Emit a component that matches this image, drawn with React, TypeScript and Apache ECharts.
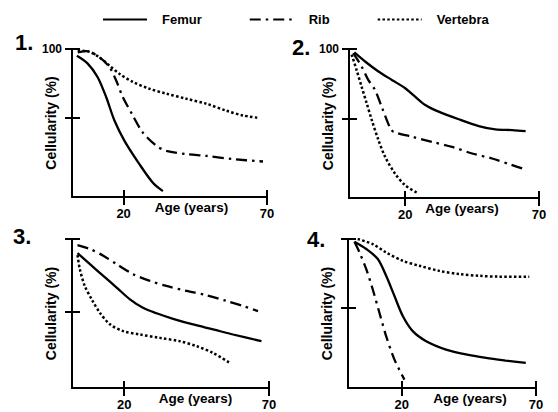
import React, { useEffect, useRef } from "react";
import * as echarts from "echarts";

const seriesNames = ["Femur", "Rib", "Vertebra"];
const ageTicks = [20, 70];
const cellTicks = [50, 100];
const cellLabelValues = [100];
const panelLabels = ["1.", "2.", "3.", "4."];
const xAxisName = "Age (years)";
const yAxisName = "Cellularity (%)";

// Panel 1
const p1Femur = [[3.7, 95], [7.4, 89.5], [10.9, 79.6], [13.9, 65], [16.8, 47.8], [20.3, 33], [25.5, 16], [30.2, 2.4], [33.7, -3.7]];
const p1Rib = [[4, 97.5], [7, 98.5], [11.5, 94], [15, 87], [17.4, 77], [19.7, 65], [23.2, 51.5], [26.7, 39], [31.4, 29.4], [34.9, 25.7], [41.9, 23.3], [48.9, 22], [58.2, 19.6], [68.6, 17.9]];
const p1Vert = [[4, 99], [8, 98], [11.5, 94], [15, 88], [18.5, 82], [23.2, 76], [29, 71], [34.9, 67.4], [41.9, 63.7], [48.9, 60], [55.8, 55], [61.6, 51.5], [66.9, 49.8]];
// Panel 2
const p2Femur = [[1, 97.5], [5, 91], [10, 83.8], [15, 77.7], [20, 71.7], [23.7, 65.6], [27.5, 59.6], [32.5, 54.8], [40, 49.3], [47.5, 44.4], [53.7, 42], [60, 41.5], [65, 40.8]];
const p2Rib = [[0.6, 97], [3.7, 87.4], [6.2, 77.7], [8.7, 70.5], [11.2, 58.4], [14.4, 42.8], [15.6, 40.3], [22.5, 36.7], [30, 33], [37.5, 29.4], [45, 24.6], [52.5, 21], [60, 16.2], [63.7, 13.8]];
const p2Vert = [[0, 96], [1.8, 85], [3.7, 72.9], [5.6, 60.9], [7.5, 48.8], [10, 34.3], [12.5, 22.2], [16.2, 10.1], [20, 1.7], [25, -4.3]];
// Panel 3
const p3Femur = [[3.9, 90.3], [8.2, 82.7], [12.8, 74.6], [17.4, 66.6], [22, 58.5], [26.5, 52.7], [31.2, 48.9], [36.9, 45.1], [43.8, 41.2], [50.7, 37.8], [57.6, 34.3], [67.4, 29.7]];
const p3Rib = [[3.9, 95.8], [8.2, 93.1], [12.8, 88.5], [17.4, 82.7], [23.1, 75.8], [28.9, 71.2], [34.6, 67.7], [41.5, 64.3], [48.4, 61.3], [55.3, 57.4], [61.1, 53.9], [66.2, 50.4]];
const p3Vert = [[3.9, 88.9], [4.7, 79.3], [6.4, 67.7], [8.8, 58.5], [11.6, 49.3], [15.1, 41.3], [19.7, 36.6], [25.4, 34.3], [32.3, 32], [39.2, 29.7], [45, 26.3], [50.7, 21.6], [56.5, 14.7]];
// Panel 4
const p4Femur = [[2.4, 98], [6.8, 92.7], [11.1, 85.4], [14.2, 73.2], [17.3, 58.5], [20.4, 43.9], [24.1, 32.9], [29.1, 25.6], [36.5, 19.5], [43.9, 15.9], [51.4, 13.4], [58.8, 11.5], [66.2, 9.8]];
const p4Rib = [[2.4, 98], [4.3, 90.2], [6.8, 78], [9.2, 63.4], [11.7, 46.3], [14.2, 29.3], [17.3, 12.2], [21, -2.4]];
const p4Vert = [[3.6, 100], [9.2, 96.3], [14.2, 90.2], [20.4, 84.1], [26.6, 80.5], [34, 76.8], [41.5, 74.4], [48.9, 73.2], [56.3, 72.6], [67.5, 72.6]];

const panelData = [
  [p1Femur, p1Rib, p1Vert],
  [p2Femur, p2Rib, p2Vert],
  [p3Femur, p3Rib, p3Vert],
  [p4Femur, p4Rib, p4Vert],
];
const panelShowHundred = [true, true, false, false];

// layout (pixels) and axis extents per panel
const layout = [
  { left: 72, top: 49, width: 195, height: 148, xMin: 2, yMin: -8, nameShift: 22, numX: 15, numY: 42.5 },
  { left: 349, top: 49, width: 190, height: 149, xMin: -1, yMin: -7.5, nameShift: 18, numX: 292, numY: 47 },
  { left: 72, top: 239, width: 197, height: 149, xMin: 2, yMin: -2.5, nameShift: 25, numX: 13, numY: 236.5 },
  { left: 348, top: 239, width: 188, height: 149, xMin: 0, yMin: -8.5, nameShift: 28, numX: 307, numY: 239 },
];

const FONT = "'Liberation Sans', Arial, Helvetica, sans-serif";
const lineTypes: any[] = ["solid", [11, 5, 2.5, 5], [2.5, 2.3]];
const lineWidths = [2.3, 2.3, 2.5];

export default function App() {
  const ref = useRef<HTMLDivElement>(null);
  useEffect(() => {
    if (!ref.current) return;
    const chart = echarts.init(ref.current, undefined, { renderer: "svg" });
    const grid: any[] = [];
    const xAxis: any[] = [];
    const yAxis: any[] = [];
    const series: any[] = [];
    const graphic: any[] = [];
    const tickStyle = { color: "#000", width: 2 };
    layout.forEach((L, i) => {
      grid.push({ left: L.left, top: L.top, width: L.width, height: L.height, outerBoundsMode: "none" });
      xAxis.push({
        gridIndex: i, type: "value", min: L.xMin, max: 70, position: "bottom",
        axisLine: { onZero: false, lineStyle: tickStyle },
        axisTick: { customValues: ageTicks, length: 8, lineStyle: tickStyle },
        axisLabel: { customValues: ageTicks, margin: 10, fontSize: 13, fontWeight: "bold", color: "#000", fontFamily: FONT },
        splitLine: { show: false },
        name: xAxisName, nameLocation: "middle", nameGap: 3, nameMoveOverlap: false,
        nameTextStyle: { fontSize: 13.5, fontWeight: "bold", color: "#000", fontFamily: FONT, verticalAlign: "top", padding: [0, 0, 0, 2 * L.nameShift] },
      });
      xAxis.push({
        gridIndex: i, type: "value", min: L.xMin, max: 70, position: "bottom",
        axisLine: { show: false, onZero: false },
        axisTick: { inside: true, customValues: ageTicks, length: 7, lineStyle: tickStyle },
        axisLabel: { show: false },
        splitLine: { show: false },
      });
      yAxis.push({
        gridIndex: i, type: "value", min: L.yMin, max: 100, position: "left",
        axisLine: { onZero: false, lineStyle: tickStyle },
        axisTick: { customValues: cellTicks, length: 7, lineStyle: tickStyle },
        axisLabel: { show: panelShowHundred[i], customValues: cellLabelValues, margin: 10, fontSize: 12, fontWeight: "bold", color: "#000", fontFamily: FONT },
        splitLine: { show: false },
        name: yAxisName, nameLocation: "middle", nameGap: 14, nameRotate: 90, nameMoveOverlap: false,
        nameTextStyle: { fontSize: 14, fontWeight: "bold", color: "#000", fontFamily: FONT },
      });
      yAxis.push({
        gridIndex: i, type: "value", min: L.yMin, max: 100, position: "left",
        axisLine: { show: false, onZero: false },
        axisTick: { inside: true, customValues: cellTicks, length: 8, lineStyle: tickStyle },
        axisLabel: { show: false },
        splitLine: { show: false },
      });
      panelData[i].forEach((d, k) => {
        series.push({
          type: "line", name: seriesNames[k], xAxisIndex: 2 * i, yAxisIndex: 2 * i,
          data: d, smooth: 0.3, symbol: "none", showSymbol: false,
          lineStyle: { color: "#000", width: lineWidths[k], type: lineTypes[k] },
          itemStyle: { color: "#000" },
        });
      });
      graphic.push({
        type: "text", x: L.numX, y: L.numY,
        style: { text: panelLabels[i], fontSize: 22, fontWeight: "bold", fontFamily: FONT, fill: "#000", verticalAlign: "middle" },
      });
    });
    chart.setOption({
      animation: false,
      backgroundColor: "#fff",
      legend: {
        data: seriesNames, left: 97, top: 8, itemWidth: 44, itemHeight: 14, itemGap: 47,
        itemStyle: { opacity: 0 },
        textStyle: { fontSize: 13, fontWeight: "bold", color: "#000", fontFamily: FONT, padding: [0, 0, 0, 10] },
      },
      grid, xAxis, yAxis, series, graphic,
    });
    return () => chart.dispose();
  }, []);
  return <div ref={ref} style={{ position: "fixed", left: 0, top: 0, width: 558, height: 412, background: "#fff" }} />;
}
